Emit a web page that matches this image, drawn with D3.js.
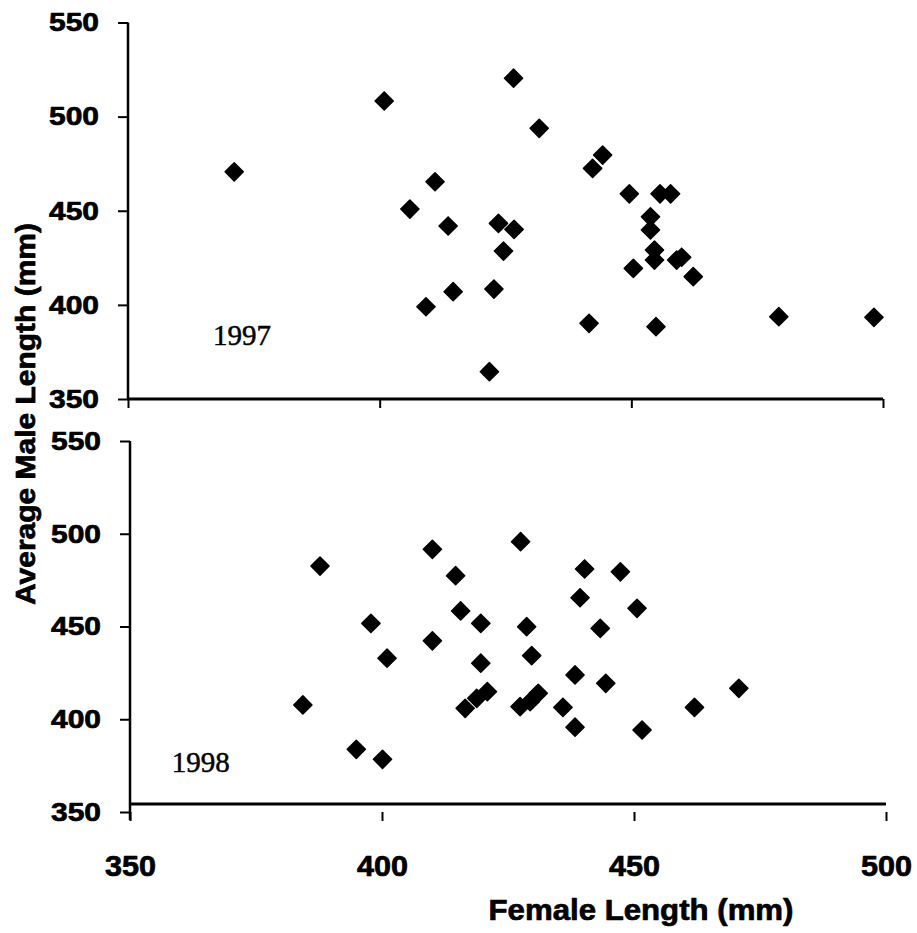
<!DOCTYPE html>
<html>
<head>
<meta charset="utf-8">
<script src="https://cdn.jsdelivr.net/npm/d3@7"></script>
<style>
  body { margin: 0; background: #fff; }
  svg { display: block; }
</style>
</head>
<body>
<svg width="917" height="933"></svg>
<script>
// values
const female1997 = [371.1, 400.9, 411.0, 406.0, 413.6, 414.6, 409.2, 426.6, 431.7, 444.3, 442.3,
    449.6, 455.7, 457.8, 423.6, 426.7, 424.6, 422.7, 441.6, 421.8, 453.8, 453.8, 454.6, 454.6,
    450.4, 459.0, 460.0, 462.3, 454.9, 479.3, 498.2];
const male1997 = [470.7, 508.3, 465.4, 450.9, 441.9, 407.0, 399.0, 520.4, 493.8, 479.6, 472.5,
    459.0, 459.0, 459.0, 443.3, 440.1, 428.6, 408.4, 390.2, 364.5, 446.8, 439.8, 429.1, 423.8,
    419.4, 423.8, 425.3, 415.0, 388.4, 393.7, 393.4];

const female1998 = [387.7, 384.3, 394.9, 400.1, 397.8, 401.0, 410.0, 410.0, 414.6, 415.6, 416.5,
    418.8, 420.9, 427.5, 419.6, 419.6, 428.7, 429.7, 427.4, 429.4, 431.0, 435.9, 438.3, 438.3,
    440.2, 439.3, 443.3, 444.4, 447.3, 450.6, 451.6, 462.0, 470.8];
const male1998 = [482.6, 407.7, 383.8, 378.4, 451.7, 432.9, 491.6, 442.3, 477.4, 458.4, 405.9,
    411.3, 414.9, 495.7, 451.7, 430.2, 449.9, 434.3, 406.8, 409.5, 414.0, 406.4, 395.7, 423.9,
    481.0, 465.5, 449.0, 419.4, 479.5, 459.8, 394.2, 406.4, 416.7];

const xTicks = [350, 400, 450, 500];
const yTicks = [350, 400, 450, 500, 550];
const xDomain = [350, 500];
const yDomain = [350, 550];

const panels = [
    {year: '1997', female: female1997, male: male1997, xr: [128, 883], yr: [399, 22.5],
        label: [366.9, 378.7], xLabels: false, lift: 0},
    {year: '1998', female: female1998, male: male1998, xr: [130, 886], yr: [812, 441],
        label: [358.3, 371.7], xLabels: true, lift: 8}
];

const svg = d3.select('svg');
const sans = '"Liberation Sans", Arial, sans-serif';
const diamond = d3.symbol().type(d3.symbolSquare).size(165);

function heavy(sel, w) {
    sel.attr('fill', '#000').attr('stroke', '#000').attr('stroke-width', w)
        .attr('stroke-linejoin', 'round');
}

panels.forEach(function (p) {
    const x = d3.scaleLinear().domain(xDomain).range(p.xr);
    const y = d3.scaleLinear().domain(yDomain).range(p.yr);
    const g = svg.append('g');

    // y axis
    const ya = g.append('g')
        .attr('transform', 'translate(' + p.xr[0] + ',0)')
        .call(d3.axisLeft(y).tickValues(yTicks).tickSize(10).tickSizeOuter(0).tickPadding(19));
    ya.select('.domain').attr('stroke-width', 2.5)
        .attr('d', 'M0,' + p.yr[1] + 'V' + (p.yr[0] + (p.lift ? 8 : 0)));
    ya.selectAll('.tick line').attr('stroke-width', 2);
    ya.selectAll('.tick text')
        .attr('font-family', sans).attr('font-weight', 'bold').attr('font-size', 26)
        .attr('textLength', 50).attr('lengthAdjust', 'spacingAndGlyphs')
        .call(heavy, 0.7);

    // x axis
    const xa = g.append('g')
        .attr('transform', 'translate(0,' + y(350) + ')')
        .call(d3.axisBottom(x).tickValues(xTicks).tickSize(9).tickSizeOuter(0).tickPadding(34));
    xa.select('.domain').remove();
    g.append('line')
        .attr('x1', p.xr[0]).attr('x2', p.xr[1])
        .attr('y1', y(350) - p.lift).attr('y2', y(350) - p.lift)
        .attr('stroke', '#000').attr('stroke-width', 3);
    xa.selectAll('.tick line').attr('stroke-width', 2);
    if (p.xLabels) {
        xa.selectAll('.tick text')
            .attr('font-family', sans).attr('font-weight', 'bold').attr('font-size', 29)
            .attr('textLength', 51).attr('lengthAdjust', 'spacingAndGlyphs')
            .call(heavy, 0.7);
    } else {
        xa.selectAll('.tick text').remove();
    }

    // points
    g.append('g')
        .selectAll('path')
        .data(p.female.map(function (d, i) { return [d, p.male[i]]; }))
        .enter().append('path')
        .attr('d', diamond)
        .attr('transform', function (d) {
            return 'translate(' + x(d[0]) + ',' + y(d[1]) + ') rotate(45)';
        })
        .call(heavy, 1.5);

    // year label
    g.append('text')
        .attr('x', x(p.label[0])).attr('y', y(p.label[1]))
        .attr('font-family', '"Liberation Serif", "Times New Roman", serif')
        .attr('font-size', 29)
        .call(heavy, 0.5)
        .text(p.year);
});

// axis titles
svg.append('text')
    .attr('transform', 'translate(35,414) rotate(-90)')
    .attr('text-anchor', 'middle')
    .attr('font-family', sans).attr('font-weight', 'bold').attr('font-size', 27)
    .attr('textLength', 382).attr('lengthAdjust', 'spacingAndGlyphs')
    .call(heavy, 0.7)
    .text('Average Male Length (mm)');

svg.append('text')
    .attr('x', 641).attr('y', 920)
    .attr('text-anchor', 'middle')
    .attr('font-family', sans).attr('font-weight', 'bold').attr('font-size', 29)
    .attr('textLength', 305).attr('lengthAdjust', 'spacingAndGlyphs')
    .call(heavy, 0.7)
    .text('Female Length (mm)');
</script>
</body>
</html>
